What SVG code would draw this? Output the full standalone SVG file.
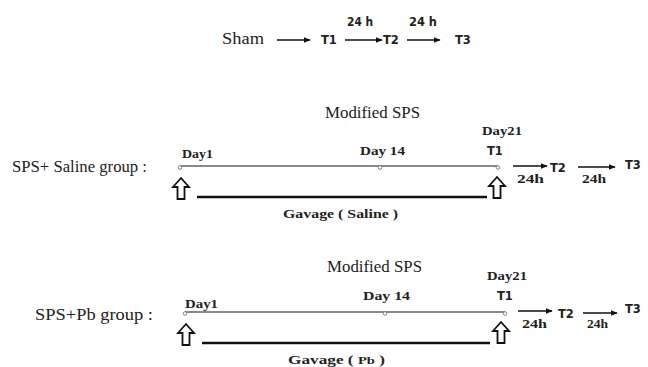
<svg xmlns="http://www.w3.org/2000/svg" width="648" height="367" viewBox="0 0 648 367">
<defs>
<marker id="ah" viewBox="0 0 10 10" refX="9" refY="5" markerWidth="7" markerHeight="7" markerUnits="userSpaceOnUse" orient="auto">
<path d="M0,1 L10,5 L0,9 Z" fill="#111"/>
</marker>
<path id="up" d="M0,0 L8,9 L3.5,9 L3.5,21 L-3.5,21 L-3.5,9 L-8,9 Z" fill="#fff" stroke="#111" stroke-width="1.8" stroke-linejoin="miter"/>
</defs>
<style>
.serif{font-family:"Liberation Serif","Times New Roman",serif;fill:#222}
.lbl{font-size:16.5px}
.bs{font-family:"Liberation Serif","Times New Roman",serif;font-weight:bold;font-size:13px;fill:#222}
.bt{font-family:"DejaVu Sans","Liberation Sans",sans-serif;font-weight:bold;font-size:11.5px;fill:#222}
.arr{stroke:#111;stroke-width:1.3;fill:none;marker-end:url(#ah)}
.tl{stroke:#8a8a8a;stroke-width:2;fill:none}
.tk{stroke:#777;stroke-width:0.9;fill:#fff}
.gv{stroke:#111;stroke-width:2.6}
</style>

<g id="sham">
<text class="serif lbl" x="222" y="44" textLength="42" lengthAdjust="spacingAndGlyphs">Sham</text>
<text class="bt" x="321" y="44">T1</text>
<text class="bt" x="347" y="26" textLength="26" lengthAdjust="spacingAndGlyphs">24 h</text>
<text class="bt" x="383" y="44">T2</text>
<text class="bt" x="409" y="26" textLength="28" lengthAdjust="spacingAndGlyphs">24 h</text>
<text class="bt" x="455" y="44">T3</text>
</g>

<g id="saline">
<text class="serif lbl" x="12" y="172" textLength="135" lengthAdjust="spacingAndGlyphs">SPS+ Saline group :</text>
<text class="serif lbl" x="325" y="118" textLength="95" lengthAdjust="spacingAndGlyphs">Modified SPS</text>
<text class="bs" x="182" y="158" textLength="31" lengthAdjust="spacingAndGlyphs">Day1</text>
<text class="bs" x="360" y="155" textLength="45" lengthAdjust="spacingAndGlyphs">Day 14</text>
<text class="bs" x="482" y="135" textLength="40" lengthAdjust="spacingAndGlyphs">Day21</text>
<text class="bt" x="487" y="155">T1</text>
<text class="bt" x="550" y="172">T2</text>
<text class="bt" x="625" y="169">T3</text>
<text class="bs" x="517" y="183" textLength="27" lengthAdjust="spacingAndGlyphs">24h</text>
<text class="bs" x="582" y="183" textLength="24" lengthAdjust="spacingAndGlyphs">24h</text>
<line class="tl" x1="180" y1="166" x2="498" y2="166"/>
<circle class="tk" cx="180" cy="167.5" r="1.8"/>
<circle class="tk" cx="380" cy="167.5" r="1.8"/>
<circle class="tk" cx="498" cy="167.5" r="1.8"/>
<use href="#up" x="181" y="178"/>
<use href="#up" x="497" y="177"/>
<line class="gv" x1="197" y1="197" x2="487" y2="197"/>
<text class="bs" x="283" y="218" textLength="115" lengthAdjust="spacingAndGlyphs">Gavage ( Saline )</text>
</g>

<g id="pb">
<text class="serif lbl" x="35" y="320" textLength="118" lengthAdjust="spacingAndGlyphs">SPS+Pb group  :</text>
<text class="serif lbl" x="327" y="272" textLength="95" lengthAdjust="spacingAndGlyphs">Modified SPS</text>
<text class="bs" x="185" y="308" textLength="33" lengthAdjust="spacingAndGlyphs">Day1</text>
<text class="bs" x="363" y="300" textLength="47" lengthAdjust="spacingAndGlyphs">Day 14</text>
<text class="bs" x="487" y="280" textLength="40" lengthAdjust="spacingAndGlyphs">Day21</text>
<text class="bt" x="497" y="300">T1</text>
<text class="bt" x="558" y="318">T2</text>
<text class="bt" x="625" y="313">T3</text>
<text class="bs" x="522" y="328" textLength="25" lengthAdjust="spacingAndGlyphs">24h</text>
<text class="bs" x="587" y="328" textLength="21" lengthAdjust="spacingAndGlyphs">24h</text>
<line class="tl" x1="185" y1="312" x2="505" y2="312"/>
<circle class="tk" cx="185" cy="313.5" r="1.8"/>
<circle class="tk" cx="385" cy="313.5" r="1.8"/>
<circle class="tk" cx="505" cy="313.5" r="1.8"/>
<use href="#up" x="186" y="324"/>
<use href="#up" x="501" y="322"/>
<line class="gv" x1="202" y1="343" x2="490" y2="343"/>
<text class="bs" x="288" y="364" textLength="97" lengthAdjust="spacingAndGlyphs">Gavage (  <tspan font-size="11px">Pb</tspan> )</text>
</g>

<g id="connectors">
<line class="arr" x1="277" y1="40" x2="310" y2="40"/>
<line class="arr" x1="345" y1="40" x2="382" y2="40"/>
<line class="arr" x1="407" y1="40" x2="440" y2="40"/>
<line class="arr" x1="513" y1="166" x2="547" y2="166"/>
<line class="arr" x1="578" y1="167" x2="615" y2="167"/>
<line class="arr" x1="518" y1="311" x2="552" y2="311"/>
<line class="arr" x1="583" y1="313" x2="617" y2="313"/>
</g>
</svg>
